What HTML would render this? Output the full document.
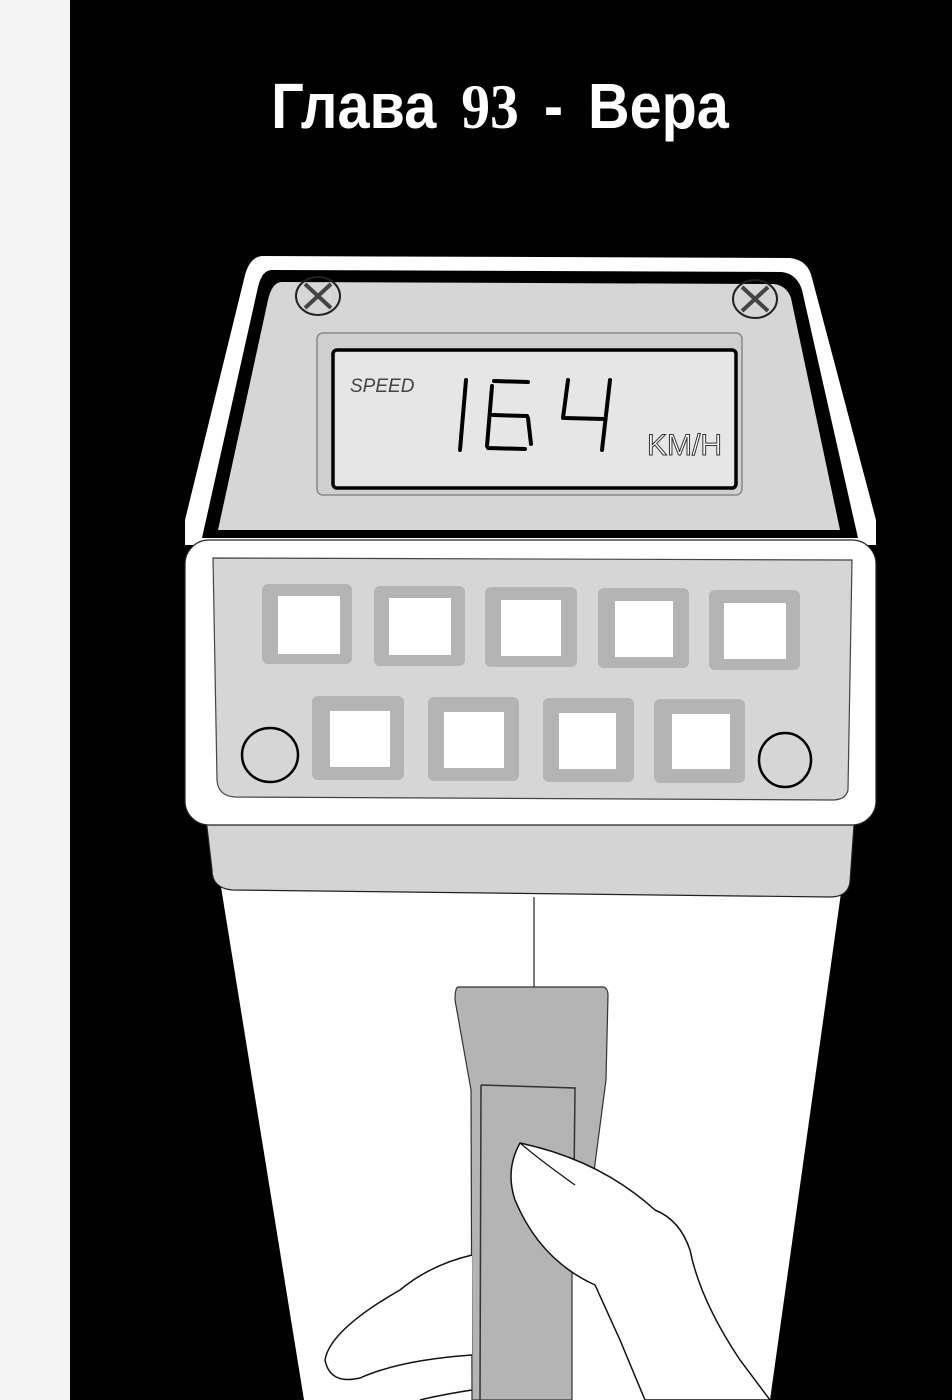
<!DOCTYPE html>
<html><head><meta charset="utf-8"><style>
html,body{margin:0;padding:0;background:#fff;}
svg{display:block}
</style></head><body>
<svg width="952" height="1400" viewBox="0 0 952 1400" xmlns="http://www.w3.org/2000/svg">
<rect x="0" y="0" width="952" height="1400" fill="#fff"/>
<rect x="0" y="0" width="70" height="1400" fill="#f4f4f4"/>
<rect x="70" y="0" width="882" height="1400" fill="#000"/>
<g transform="translate(500,128) scale(0.9,1)">
<text x="0" y="0" text-anchor="middle" fill="#fff" font-family="'Liberation Sans',sans-serif" font-weight="bold" font-size="64" word-spacing="10">Глава <tspan font-family="'Liberation Serif',serif">93</tspan>  -  Вера</text>
</g>

<!-- white column -->
<polygon points="215,850 847,850 770,1400 304,1400" fill="#fff"/>
<!-- lower face gray -->
<path d="M205,810 L855,810 L850,882 Q848,897 830,897 L232,890 Q212,888 212,870 Z" fill="#d4d4d4" stroke="#222" stroke-width="1.2"/>
<!-- top panel -->
<path d="M262,256 L790,258 Q808,260 812,278 L876,520 L876,545 L185,545 L185,520 L245,275 Q250,257 262,256 Z" fill="#fff"/>
<path d="M272,270 L782,272 Q797,274 802,290 L858,538 L202,538 L258,287 Q262,270 272,270 Z" fill="#000"/>
<path d="M282,282 L774,284 Q787,286 791,298 L840,530 L218,530 L268,300 Q272,282 282,282 Z" fill="#d6d6d6"/>
<ellipse cx="318" cy="296" rx="22" ry="19" fill="none" stroke="#222" stroke-width="2"/>
<path d="M305,284 L331,308 M331,284 L305,308" stroke="#444" stroke-width="4"/>
<ellipse cx="755" cy="299" rx="22" ry="19" fill="none" stroke="#222" stroke-width="2"/>
<path d="M742,287 L768,311 M768,287 L742,311" stroke="#444" stroke-width="4"/>
<!-- LCD -->
<rect x="317" y="333" width="425" height="162" rx="6" fill="#cfcfcf" stroke="#888" stroke-width="1.5"/>
<rect x="333" y="350" width="403" height="138" rx="4" fill="#e6e6e6" stroke="#000" stroke-width="3.5"/>
<text x="350" y="392" font-family="'Liberation Sans Narrow','Liberation Sans',sans-serif" font-style="italic" font-size="19" fill="#444">SPEED</text>
<g stroke="#000" stroke-width="4" fill="none" stroke-linecap="round">
<path d="M466,380 L460,450"/>
<path d="M528,382 L494,381 M492,386 L487,446 M488,448 L525,449 M528,418 L531,444 M493,415 L527,416"/>
<path d="M568,380 L563,418 M565,418 L604,419 M610,380 L602,450"/>
</g>
<text x="647" y="455" font-family="'Liberation Sans Narrow','Liberation Sans',sans-serif" font-size="30" fill="#fff" stroke="#333" stroke-width="1">KM/H</text>
<!-- button panel -->
<rect x="185" y="540" width="691" height="285" rx="24" fill="#fff" stroke="#222" stroke-width="1.2"/>
<path d="M213,558 L852,560 L848,790 Q846,800 832,800 L235,797 Q218,796 217,780 Z" fill="#d6d6d6" stroke="#444" stroke-width="1.2"/>
<g fill="#b4b4b4">
<rect x="262" y="584" width="90" height="80" rx="6"/><rect x="374" y="586" width="91" height="80" rx="6"/><rect x="485" y="587" width="92" height="80" rx="6"/><rect x="598" y="588" width="91" height="80" rx="6"/><rect x="709" y="590" width="91" height="80" rx="6"/>
<rect x="312" y="696" width="92" height="84" rx="6"/><rect x="428" y="697" width="91" height="84" rx="6"/><rect x="543" y="698" width="91" height="84" rx="6"/><rect x="654" y="699" width="91" height="84" rx="6"/>
</g>
<g fill="#fff">
<rect x="278" y="596" width="62" height="58"/><rect x="389" y="598" width="62" height="57"/><rect x="501" y="600" width="60" height="56"/><rect x="615" y="601" width="58" height="56"/><rect x="724" y="603" width="62" height="56"/>
<rect x="330" y="711" width="60" height="56"/><rect x="444" y="712" width="60" height="56"/><rect x="559" y="713" width="57" height="56"/><rect x="672" y="714" width="58" height="55"/>
</g>
<ellipse cx="270" cy="755" rx="28" ry="27" fill="none" stroke="#000" stroke-width="2.5"/>
<ellipse cx="785" cy="760" rx="26" ry="27" fill="none" stroke="#000" stroke-width="2.5"/>
<!-- cord -->
<line x1="534" y1="897" x2="534" y2="988" stroke="#222" stroke-width="1.2"/>
<!-- handle -->
<path d="M458,987 L604,987 Q608,989 608,995 L606,1080 L587,1225 L572,1240 L572,1400 L472,1400 L471,1090 L455,1000 Q455,988 458,987 Z" fill="#b4b4b4" stroke="#333" stroke-width="1.2"/>
<path d="M481,1085 L575,1088 L574,1180 M481,1085 L480,1400" fill="none" stroke="#333" stroke-width="1.5"/>
<!-- hand -->
<path d="M520,1143 Q505,1170 515,1200 Q540,1260 595,1285 L620,1340 L645,1400 L770,1400 L740,1360 Q700,1300 690,1250 Q680,1220 655,1210 Q600,1160 520,1143 Z" fill="#fff" stroke="#111" stroke-width="1.5"/>
<path d="M472,1255 Q430,1265 400,1290 Q330,1330 325,1360 Q330,1385 360,1378 Q400,1360 472,1355 M472,1390 Q440,1395 420,1400" fill="#fff" stroke="#111" stroke-width="1.5"/>
<path d="M520,1143 Q540,1160 575,1185" fill="none" stroke="#111" stroke-width="1.2"/>
</svg>
</body></html>
